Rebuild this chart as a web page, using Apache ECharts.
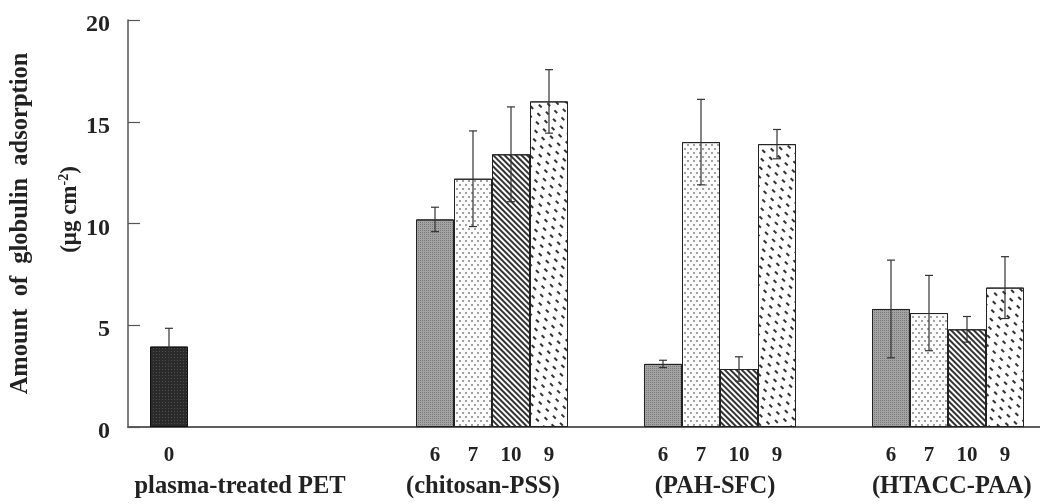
<!DOCTYPE html>
<html><head><meta charset="utf-8">
<script src="https://cdn.jsdelivr.net/npm/echarts@6/dist/echarts.min.js"></script>
<style>html,body{margin:0;padding:0;background:#fff}#c{width:1040px;height:504px}</style>
</head><body><div id="c"></div>
<script>
// ---- data ----
const groupNames = ['plasma-treated PET', '(chitosan-PSS)', '(PAH-SFC)', '(HTACC-PAA)'];
const layerLabels = [['0'], ['6', '7', '10', '9'], ['6', '7', '10', '9'], ['6', '7', '10', '9']];
const plasmaValues = [3.95];
const plasmaErrors = [0.9];
const chitosanValues = [10.2, 12.2, 13.4, 16.0];
const chitosanErrors = [0.6, 2.35, 2.33, 1.56];
const pahValues = [3.1, 14.0, 2.85, 13.9];
const pahErrors = [0.18, 2.1, 0.6, 0.72];
const htaccValues = [5.8, 5.6, 4.8, 6.85];
const htaccErrors = [2.4, 1.85, 0.63, 1.52];
const yTicks = [0, 5, 10, 15, 20];

// ---- layout ----
const spacersBefore = [0, 6, 2, 2];
const groupLabelAt = [2.37, 8.76, 14.87, 21.1];
const FONT = "'Liberation Serif', 'Times New Roman', serif";
const INK = '#222';

const patterns = {
  '0': { color: '#2a2a2a', borderColor: '#111', borderWidth: 1,
         decal: { symbol: 'rect', symbolSize: 1, dashArrayX: [1, 2], dashArrayY: [1, 2], color: 'rgba(120,120,120,0.5)' } },
  '6': { color: '#a3a3a3', borderColor: '#222', borderWidth: 1,
         decal: { symbol: 'rect', symbolSize: 1, dashArrayX: [1, 1], dashArrayY: [1, 1], color: 'rgba(70,70,70,0.45)' } },
  '7': { color: '#fbfbfb', borderColor: '#222', borderWidth: 1,
         decal: { symbol: 'circle', symbolSize: 0.9, dashArrayX: [[2, 4], [0, 3, 2, 1]], dashArrayY: [2, 2], color: '#777' } },
  '10': { color: '#ffffff', borderColor: '#222', borderWidth: 1,
         decal: { symbol: 'rect', symbolSize: 1, dashArrayX: [1, 0], dashArrayY: [1.3, 1.8], rotation: Math.PI / 4, color: '#333' } },
  '9': { color: '#ffffff', borderColor: '#222', borderWidth: 1,
         decal: { symbol: 'rect', symbolSize: 1, dashArrayX: [[4, 6], [0, 5, 4, 1]], dashArrayY: [1.5, 4.5], rotation: Math.PI / 4, color: '#333' } }
};

const groups = [plasmaValues, chitosanValues, pahValues, htaccValues];
const groupErrs = [plasmaErrors, chitosanErrors, pahErrors, htaccErrors];
const cats = [], barData = [], errData = [];
groups.forEach((vals, g) => {
  for (let s = 0; s < spacersBefore[g]; s++) { cats.push(''); barData.push('-'); }
  vals.forEach((v, i) => {
    const lab = layerLabels[g][i];
    const idx = cats.length;
    cats.push(lab);
    barData.push({ value: v, itemStyle: patterns[lab] });
    errData.push([idx, v, groupErrs[g][i]]);
  });
});
const nSlots = cats.length;

const axisLineStyle = { color: '#555', width: 1.5 };
const hidden = { show: false };

const chart = echarts.init(document.getElementById('c'), null, { renderer: 'canvas' });
chart.setOption({
  backgroundColor: '#ffffff',
  animation: false,
  grid: [
    { left: 127, top: 20, width: 913, height: 407 },
    { left: 150, top: 20, width: nSlots * 38, height: 407 }
  ],
  xAxis: [
    { gridIndex: 0, type: 'value', min: 0, max: 1, position: 'bottom',
      axisLine: { show: true, lineStyle: axisLineStyle }, axisTick: hidden, axisLabel: hidden, splitLine: hidden },
    { gridIndex: 0, type: 'value', min: 0, max: 1, position: 'top',
      axisLine: { show: true, lineStyle: axisLineStyle }, axisTick: hidden, axisLabel: hidden, splitLine: hidden },
    { gridIndex: 1, type: 'category', data: cats, position: 'bottom',
      axisLine: hidden, axisTick: hidden, splitLine: hidden,
      axisLabel: { show: true, interval: 0, margin: 18, color: INK, fontFamily: FONT, fontWeight: 'bold', fontSize: 21 } },
    { gridIndex: 1, type: 'value', min: 0, max: nSlots, position: 'bottom',
      axisLine: hidden, axisTick: hidden, splitLine: hidden,
      axisLabel: { show: true, customValues: groupLabelAt, margin: 47, color: INK, fontFamily: FONT, fontWeight: 'bold', fontSize: 24.5,
        formatter: (v) => { const i = groupLabelAt.findIndex(p => Math.abs(p - v) < 1e-6); return i >= 0 ? groupNames[i] : ''; } } }
  ],
  yAxis: [
    { gridIndex: 0, type: 'value', position: 'left', min: yTicks[0], max: yTicks[yTicks.length - 1], interval: yTicks[1] - yTicks[0],
      axisLine: { show: true, lineStyle: axisLineStyle },
      axisTick: { show: true, inside: true, length: 12, lineStyle: { color: '#555', width: 1.2 } },
      axisLabel: { margin: 18, verticalAlign: 'top', lineHeight: 10, color: INK, fontFamily: FONT, fontWeight: 'bold', fontSize: 24 },
      splitLine: hidden,
      name: 'Amount  of  globulin  adsorption', nameLocation: 'middle', nameRotate: 90, nameGap: 95,
      nameTextStyle: { color: INK, fontFamily: FONT, fontWeight: 'bold', fontSize: 24.5 } },
    { gridIndex: 0, type: 'value', position: 'left', min: 0, max: 20,
      axisLine: hidden, axisTick: hidden, axisLabel: hidden, splitLine: hidden,
      name: '{a|(μg cm}{s|-2}{a|)}', nameLocation: 'middle', nameRotate: 90, nameGap: 45,
      nameTextStyle: { padding: [0, 0, 0, 28], rich: {
        a: { color: INK, fontFamily: FONT, fontWeight: 'bold', fontSize: 23, lineHeight: 26 },
        s: { color: INK, fontFamily: FONT, fontWeight: 'bold', fontSize: 14, verticalAlign: 'top', lineHeight: 26 }
      } } },
    { gridIndex: 1, type: 'value', min: 0, max: 20, show: false }
  ],
  series: [
    { type: 'bar', xAxisIndex: 2, yAxisIndex: 2, data: barData, barCategoryGap: '0%', z: 2 },
    { type: 'custom', xAxisIndex: 2, yAxisIndex: 2, data: errData, z: 5,
      encode: { x: 0, y: 1 },
      renderItem: (params, api) => {
        const x = api.value(0), v = api.value(1), e = api.value(2);
        const top = api.coord([x, v + e]), bot = api.coord([x, v - e]);
        const w = 4, st = { stroke: '#333', lineWidth: 1.2 };
        return { type: 'group', children: [
          { type: 'line', shape: { x1: top[0], y1: top[1], x2: bot[0], y2: bot[1] }, style: st },
          { type: 'line', shape: { x1: top[0] - w, y1: top[1], x2: top[0] + w, y2: top[1] }, style: st },
          { type: 'line', shape: { x1: bot[0] - w, y1: bot[1], x2: bot[0] + w, y2: bot[1] }, style: st }
        ] };
      } }
  ]
});
</script></body></html>
